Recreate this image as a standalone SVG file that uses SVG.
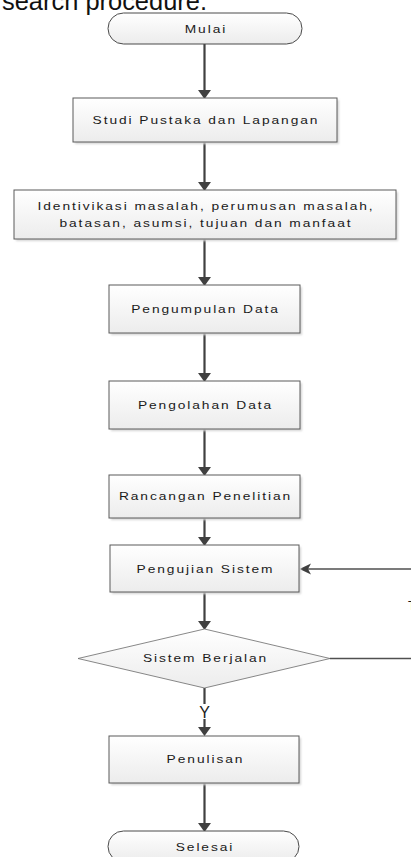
<svg xmlns="http://www.w3.org/2000/svg" width="411" height="857" viewBox="0 0 411 857">
<style>
.lbl{font-family:"Liberation Sans",Arial,sans-serif;font-size:11px;letter-spacing:1.55px;fill:#1a1a1a;text-anchor:middle}
.box{fill:url(#g);stroke:#5a5a5a;stroke-width:1}
.term{fill:url(#g);stroke:#4a4a4a;stroke-width:1}
.dia{fill:url(#g);stroke:#6a6a6a;stroke-width:0.8}
.sh{fill:#d4d4d4;filter:url(#blur)}
.con{fill:none;stroke:#404040;stroke-width:2.2;marker-end:url(#ah)}
.loop{fill:none;stroke:#505050;stroke-width:1.4}
</style>
<defs>
<linearGradient id="g" x1="0" y1="0" x2="0" y2="1">
<stop offset="0" stop-color="#ffffff"/>
<stop offset="1" stop-color="#ececec"/>
</linearGradient>
<filter id="blur" x="-10%" y="-10%" width="120%" height="130%"><feGaussianBlur stdDeviation="0.8"/></filter>
<marker id="ah" markerUnits="userSpaceOnUse" markerWidth="9" markerHeight="13" refX="5" refY="6.5" orient="auto">
<path d="M0,0 L9,6.5 L0,13 z" fill="#404040"/>
</marker>
</defs>

<text x="2" y="9.5" font-family="Liberation Sans,Arial,sans-serif" font-size="25" fill="#111" textLength="205" lengthAdjust="spacingAndGlyphs">search procedure.</text>

<g id="connectors">
<line class="con" x1="204.5" y1="44" x2="204.5" y2="95"/>
<line class="con" x1="204.5" y1="142" x2="204.5" y2="187"/>
<line class="con" x1="204.5" y1="239" x2="204.5" y2="282"/>
<line class="con" x1="204.5" y1="333" x2="204.5" y2="378"/>
<line class="con" x1="204.5" y1="429" x2="204.5" y2="472"/>
<line class="con" x1="204.5" y1="518" x2="204.5" y2="542"/>
<line class="con" x1="204.5" y1="592" x2="204.5" y2="626"/>
<line class="con" x1="204.5" y1="688" x2="204.5" y2="732"/>
<line class="con" x1="204.5" y1="783" x2="204.5" y2="828"/>
<rect x="196" y="704" width="17" height="15" fill="#ffffff"/>
<text x="204.5" y="718" font-family="Liberation Sans,Arial,sans-serif" font-size="16" fill="#1a1a1a" text-anchor="middle">Y</text>
<polyline class="loop" points="330,658.5 440,658.5 440,569 306,569"/>
<path d="M299.5,569 L311,563.5 L308,569 L311,574.5 z" fill="#404040"/>
<text x="412" y="610" font-family="Liberation Sans,Arial,sans-serif" font-size="13" fill="#1a1a1a" text-anchor="middle">T</text>
</g>

<g id="mulai">
<rect class="term" x="108" y="13" width="194" height="31" rx="15.5" ry="15.5"/>
<text class="lbl" transform="translate(206,33) scale(1.25,1)">Mulai</text>
</g>

<g id="studi">
<rect class="sh" x="75" y="100" width="264" height="44"/>
<rect class="box" x="73" y="98" width="264" height="44"/>
<text class="lbl" transform="translate(206,124) scale(1.25,1)">Studi Pustaka dan Lapangan</text>
</g>

<g id="identifikasi">
<rect class="sh" x="16" y="192" width="382" height="49"/>
<rect class="box" x="14" y="190" width="382" height="49"/>
<text class="lbl" transform="translate(206,210) scale(1.25,1)">Identivikasi masalah, perumusan masalah,</text>
<text class="lbl" transform="translate(206,227) scale(1.25,1)">batasan, asumsi, tujuan dan manfaat</text>
</g>

<g id="pengumpulan">
<rect class="sh" x="111" y="287" width="191" height="48"/>
<rect class="box" x="109" y="285" width="191" height="48"/>
<text class="lbl" transform="translate(205.5,313) scale(1.25,1)">Pengumpulan Data</text>
</g>

<g id="pengolahan">
<rect class="sh" x="111" y="383" width="191" height="48"/>
<rect class="box" x="109" y="381" width="191" height="48"/>
<text class="lbl" transform="translate(205.5,409) scale(1.25,1)">Pengolahan Data</text>
</g>

<g id="rancangan">
<rect class="sh" x="111" y="477" width="191" height="43"/>
<rect class="box" x="109" y="475" width="191" height="43"/>
<text class="lbl" transform="translate(205.5,500) scale(1.25,1)">Rancangan Penelitian</text>
</g>

<g id="pengujian">
<rect class="sh" x="112" y="547" width="189" height="47"/>
<rect class="box" x="110" y="545" width="189" height="47"/>
<text class="lbl" transform="translate(205.5,573) scale(1.25,1)">Pengujian Sistem</text>
</g>

<g id="sistem-berjalan">
<polygon class="dia" points="204.5,629 330,658.5 204.5,688 78,658.5"/>
<text class="lbl" transform="translate(205.5,662) scale(1.25,1)">Sistem Berjalan</text>
</g>

<g id="penulisan">
<rect class="sh" x="111" y="738" width="190" height="47"/>
<rect class="box" x="109" y="736" width="190" height="47"/>
<text class="lbl" transform="translate(205.5,763) scale(1.25,1)">Penulisan</text>
</g>

<g id="selesai">
<rect class="term" x="108" y="831" width="191" height="31" rx="15.5" ry="15.5"/>
<text class="lbl" transform="translate(205,851) scale(1.25,1)">Selesai</text>
</g>
</svg>
